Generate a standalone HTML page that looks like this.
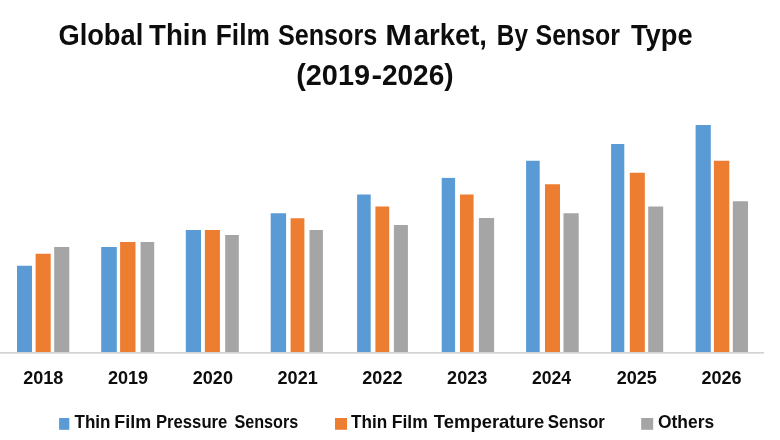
<!DOCTYPE html>
<html lang="en"><head><meta charset="utf-8"><title>Global Thin Film Sensors Market, By Sensor Type (2019-2026)</title>
<style>html,body{margin:0;padding:0;background:#fff}body{width:780px;height:440px;overflow:hidden}svg{display:block}text{font-family:"Liberation Sans", sans-serif;font-weight:bold;fill:#0d0d0d}</style></head><body>
<svg width="780" height="440" viewBox="0 0 780 440">
<rect width="780" height="440" fill="#fff"/>
<rect x="17.00" y="265.75" width="15.00" height="86.25" fill="#5B9BD5"/>
<rect x="35.60" y="253.75" width="15.10" height="98.25" fill="#ED7D31"/>
<rect x="54.20" y="247.00" width="15.10" height="105.00" fill="#A5A5A5"/>
<rect x="101.20" y="247.00" width="15.60" height="105.00" fill="#5B9BD5"/>
<rect x="120.10" y="242.00" width="15.40" height="110.00" fill="#ED7D31"/>
<rect x="140.60" y="242.00" width="13.60" height="110.00" fill="#A5A5A5"/>
<rect x="185.80" y="230.00" width="15.20" height="122.00" fill="#5B9BD5"/>
<rect x="204.90" y="230.00" width="15.00" height="122.00" fill="#ED7D31"/>
<rect x="225.20" y="235.00" width="13.60" height="117.00" fill="#A5A5A5"/>
<rect x="270.70" y="213.25" width="15.40" height="138.75" fill="#5B9BD5"/>
<rect x="290.60" y="218.25" width="13.80" height="133.75" fill="#ED7D31"/>
<rect x="309.50" y="230.00" width="13.40" height="122.00" fill="#A5A5A5"/>
<rect x="357.10" y="194.50" width="13.60" height="157.50" fill="#5B9BD5"/>
<rect x="375.40" y="206.50" width="13.80" height="145.50" fill="#ED7D31"/>
<rect x="393.90" y="225.00" width="14.00" height="127.00" fill="#A5A5A5"/>
<rect x="441.70" y="177.90" width="13.40" height="174.10" fill="#5B9BD5"/>
<rect x="460.00" y="194.50" width="13.60" height="157.50" fill="#ED7D31"/>
<rect x="478.90" y="218.00" width="15.20" height="134.00" fill="#A5A5A5"/>
<rect x="526.10" y="160.75" width="13.60" height="191.25" fill="#5B9BD5"/>
<rect x="545.00" y="184.25" width="15.00" height="167.75" fill="#ED7D31"/>
<rect x="563.50" y="213.25" width="15.20" height="138.75" fill="#A5A5A5"/>
<rect x="611.10" y="144.00" width="13.20" height="208.00" fill="#5B9BD5"/>
<rect x="629.80" y="172.75" width="15.00" height="179.25" fill="#ED7D31"/>
<rect x="648.20" y="206.50" width="15.00" height="145.50" fill="#A5A5A5"/>
<rect x="695.60" y="125.00" width="15.20" height="227.00" fill="#5B9BD5"/>
<rect x="713.90" y="160.75" width="15.40" height="191.25" fill="#ED7D31"/>
<rect x="732.80" y="201.25" width="15.20" height="150.75" fill="#A5A5A5"/>
<rect x="0" y="352" width="764" height="1.7" fill="#d3d3d3"/>
<rect x="59.10" y="418" width="10.20" height="11.8" fill="#5B9BD5"/>
<rect x="335.00" y="418" width="12.00" height="11.8" fill="#ED7D31"/>
<rect x="641.20" y="418" width="12.00" height="11.8" fill="#A5A5A5"/>
<g><text transform="translate(58.46 45.30) scale(0.9395 1)" font-size="29">Global</text> <text transform="translate(149.00 45.30) scale(0.9532 1)" font-size="29">Thin</text> <text transform="translate(215.79 45.30) scale(0.9080 1)" font-size="29">Film</text> <text transform="translate(277.90 45.30) scale(0.8684 1)" font-size="29">Sensors</text> <text transform="translate(385.19 45.30) scale(1.1091 1)" font-size="29">M</text><text transform="translate(413.70 45.30) scale(0.9472 1)" font-size="29">arket,</text> <text transform="translate(496.86 45.30) scale(0.8374 1)" font-size="29">By</text> <text transform="translate(535.60 45.30) scale(0.8589 1)" font-size="29">Sensor</text> <text transform="translate(631.00 45.30) scale(0.9403 1)" font-size="29">Type</text></g>
<g><text transform="translate(296.20 85.10) scale(0.9953 1)" font-size="29">(2019</text><text transform="translate(371.50 85.10) scale(1.1000 1)" font-size="29">-</text><text transform="translate(381.93 85.10) scale(0.9667 1)" font-size="29">2026)</text></g>
<text transform="translate(23.20 383.75) scale(0.9876 1)" font-size="18.3">2018</text>
<text transform="translate(107.98 383.75) scale(0.9876 1)" font-size="18.3">2019</text>
<text transform="translate(192.76 383.75) scale(0.9876 1)" font-size="18.3">2020</text>
<text transform="translate(277.54 383.75) scale(0.9876 1)" font-size="18.3">2021</text>
<text transform="translate(362.32 383.75) scale(0.9876 1)" font-size="18.3">2022</text>
<text transform="translate(447.10 383.75) scale(0.9876 1)" font-size="18.3">2023</text>
<text transform="translate(531.88 383.75) scale(0.9638 1)" font-size="18.3">2024</text>
<text transform="translate(616.66 383.75) scale(0.9876 1)" font-size="18.3">2025</text>
<text transform="translate(701.44 383.75) scale(0.9876 1)" font-size="18.3">2026</text>
<g><text transform="translate(74.50 428.10) scale(0.9254 1)" font-size="18.4">Thin</text> <text transform="translate(114.33 428.10) scale(0.9739 1)" font-size="18.4">Film</text> <text transform="translate(155.89 428.10) scale(0.9084 1)" font-size="18.4">Pressure</text> <text transform="translate(234.40 428.10) scale(0.8791 1)" font-size="18.4">Sensors</text></g>
<g><text transform="translate(351.00 428.10) scale(0.9306 1)" font-size="18.4">Thin</text> <text transform="translate(391.75 428.10) scale(0.9547 1)" font-size="18.4">Film</text> <text transform="translate(433.80 428.10) scale(1.0036 1)" font-size="18.4">Temperature</text> <text transform="translate(547.80 428.10) scale(0.9165 1)" font-size="18.4">Sensor</text></g>
<g><text transform="translate(658.00 428.10) scale(0.9467 1)" font-size="18.4">Others</text></g>
</svg></body></html>
